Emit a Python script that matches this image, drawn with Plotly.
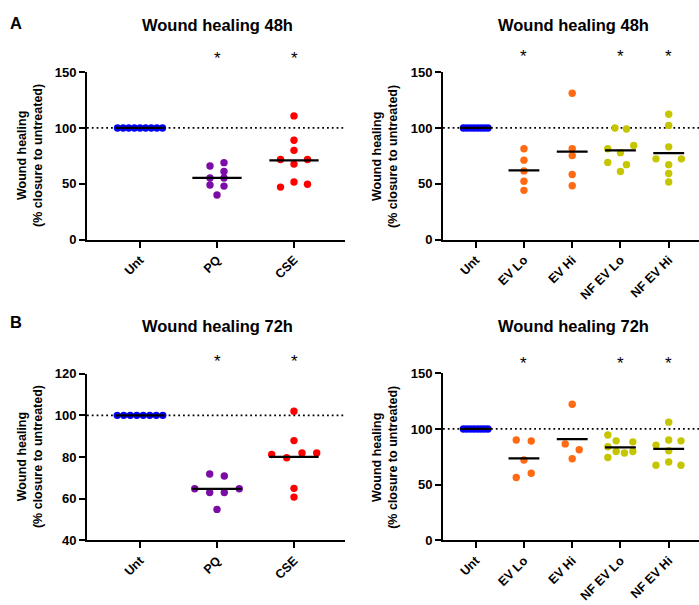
import numpy as np
import plotly.graph_objects as go

W, H = 699, 605
FONT = "Liberation Sans, Arial, sans-serif"

# ---------------- data ----------------
left_cats = ["Unt", "PQ", "CSE"]
right_cats = ["Unt", "EV Lo", "EV Hi", "NF EV Lo", "NF EV Hi"]

# Panel A, 48h (left)
a48_unt = [100, 100, 100, 100, 100, 100, 100, 100, 100]
a48_pq = [69, 66, 61, 55.2, 55.2, 49, 48, 40]
a48_cse = [110.8, 89, 80, 71.8, 71.8, 67.7, 51.7, 49.7, 47.1]
a48_left_sig = [False, True, True]

# Panel A, 48h (right)
a48r_unt = [100, 100, 100, 100, 100, 100, 100, 100]
a48r_evlo = [81.4, 71.2, 61.6, 52.3, 44.2]
a48r_evhi = [131.1, 81.4, 75.3, 58.4, 48.3]
a48r_nflo = [100, 99.1, 84.3, 81.4, 77.9, 69.2, 67.2, 61.0]
a48r_nfhi = [112.2, 102.3, 83.1, 72.4, 72.4, 67.2, 59.3, 51.7]
a48_right_sig = [False, True, False, True, True]

# Panel B, 72h (left)
b72_unt = [100, 100, 100, 100, 100, 100, 100, 100]
b72_pq = [71.9, 70.9, 64.8, 64.8, 63, 63, 54.9]
b72_cse = [102, 87.9, 82, 82, 81.2, 79.7, 65, 60.8]
b72_left_sig = [False, True, True]

# Panel B, 72h (right)
b72r_unt = [100, 100, 100, 100, 100, 100, 100, 100]
b72r_evlo = [90.1, 89.2, 72.1, 60.2, 56.4]
b72r_evhi = [122.1, 86.6, 81.4, 73.3]
b72r_nflo = [94.5, 89.3, 88.4, 84.0, 79.7, 78.4, 79.7, 74.4]
b72r_nfhi = [106.1, 90.1, 89.3, 85.5, 80.5, 70.4, 67.5, 67.5]
b72_right_sig = [False, True, False, True, True]

# ---------------- layout / styling (positions in px) ----------------
# swarm offsets in pixels (scatter-dot arrangement)
a48_pq_dx = [7, -7, 7, -7, 7, -7, 7, 0]
a48_cse_dx = [0, 0, 0, -13.5, 13.5, 0, 0, 13.5, -13.5]
a48r_evlo_dx = [0, 0, 0, 0, 0]
a48r_evhi_dx = [0, 0, 0, 0, 0]
a48r_nflo_dx = [-5.5, 6, 13.3, -12.7, 0, -12.7, 6, 0]
a48r_nfhi_dx = [0, 0, 0, -12.7, 12.7, 0, 0, 0]
b72_pq_dx = [-7.3, 7.3, -22.3, 22.3, -7.3, 7.3, 0]
b72_cse_dx = [0, 0, 8, 22.7, -22.3, -7.3, 0, 0]
b72r_evlo_dx = [-7.7, 7.3, 0, 7.3, -7.7]
b72r_evhi_dx = [0, -7, 7, 0]
b72r_nflo_dx = [-12.6, -4.3, 12.4, -12.6, -4.3, 4, 12.4, -12.6]
b72r_nfhi_dx = [0, 0, 12.3, -12.7, 0, 0, -12.7, 12.3]

BLUE = "#0000ff"
PURPLE = "#7b0ca6"
RED = "#ff0000"
ORANGE = "#ff6a13"
OLIVE = "#c6c600"

def px2x(px):
    return px / W

def px2y(py):
    return 1 - py / H

panels = [
    dict(ax="", cats=left_cats,
         groups=[(a48_unt, None, BLUE), (a48_pq, a48_pq_dx, PURPLE), (a48_cse, a48_cse_dx, RED)],
         sig=a48_left_sig, xpx=(87, 345), cat0=140, ppu=77, ypx=(66.7, 238.7),
         yr=[0, 150], yt=[0, 50, 100, 150], unt_half=22.5,
         title="Wound healing 48h", title_xy=(217.5, 18.5), star_y=53, ytitle_x=30, letter="A", letter_xy=(16, 16)),
    dict(ax="2", cats=right_cats,
         groups=[(a48r_unt, None, BLUE), (a48r_evlo, a48r_evlo_dx, ORANGE), (a48r_evhi, a48r_evhi_dx, ORANGE),
                 (a48r_nflo, a48r_nflo_dx, OLIVE), (a48r_nfhi, a48r_nfhi_dx, OLIVE)],
         sig=a48_right_sig, xpx=(443, 699), cat0=475.7, ppu=48.25, ypx=(66.7, 238.7),
         yr=[0, 150], yt=[0, 50, 100, 150], unt_half=12.3,
         title="Wound healing 48h", title_xy=(573, 18.5), star_y=51, ytitle_x=385, letter=None),
    dict(ax="3", cats=left_cats,
         groups=[(b72_unt, None, BLUE), (b72_pq, b72_pq_dx, PURPLE), (b72_cse, b72_cse_dx, RED)],
         sig=b72_left_sig, xpx=(87, 345), cat0=140, ppu=77, ypx=(376, 547),
         yr=[40, 120], yt=[40, 60, 80, 100, 120], unt_half=22.8,
         title="Wound healing 72h", title_xy=(217.5, 326.7), star_y=363, ytitle_x=30, letter="B", letter_xy=(16, 323)),
    dict(ax="4", cats=right_cats,
         groups=[(b72r_unt, None, BLUE), (b72r_evlo, b72r_evlo_dx, ORANGE), (b72r_evhi, b72r_evhi_dx, ORANGE),
                 (b72r_nflo, b72r_nflo_dx, OLIVE), (b72r_nfhi, b72r_nfhi_dx, OLIVE)],
         sig=b72_right_sig, xpx=(443, 699), cat0=475.7, ppu=48.25, ypx=(375.5, 547),
         yr=[0, 150], yt=[0, 50, 100, 150], unt_half=12.3,
         title="Wound healing 72h", title_xy=(573, 326.7), star_y=366, ytitle_x=385, letter=None),
]

fig = go.Figure()
annotations = []
shapes = []
layout_axes = {}

for p in panels:
    xa = "x" + p["ax"]
    ya = "y" + p["ax"]
    ncat = len(p["cats"])
    # x range from pixel geometry
    x_lo = -(p["cat0"] - p["xpx"][0]) / p["ppu"]
    x_hi = (p["xpx"][1] - p["cat0"]) / p["ppu"]

    for i, (vals, dx, col) in enumerate(p["groups"]):
        n = len(vals)
        if dx is None:
            offs = np.linspace(-p["unt_half"], p["unt_half"], n) / p["ppu"]
        else:
            offs = np.array(dx) / p["ppu"]
        xs = i + offs
        fig.add_trace(go.Scatter(
            x=xs, y=vals, mode="markers", xaxis=xa, yaxis=ya,
            marker=dict(size=7.4, color=col, line=dict(width=0)),
            showlegend=False, hoverinfo="y", cliponaxis=False))
    # mean lines on top
    for i, (vals, dx, col) in enumerate(p["groups"]):
        m = float(np.mean(vals))
        fig.add_trace(go.Scatter(
            x=[i - 0.32, i + 0.32], y=[m, m], mode="lines", xaxis=xa, yaxis=ya,
            line=dict(color="black", width=2.2), showlegend=False, hoverinfo="skip",
            cliponaxis=False))

    # dotted reference at 100
    shapes.append(dict(type="line", xref=xa + " domain", yref=ya, x0=0, x1=1, y0=100, y1=100,
                       line=dict(color="black", width=1.8, dash="1.8px,3px"), layer="below"))

    axis_key = "xaxis" + p["ax"]
    yaxis_key = "yaxis" + p["ax"]
    layout_axes[axis_key] = dict(
        domain=[px2x(p["xpx"][0]), px2x(p["xpx"][1])], range=[x_lo, x_hi], anchor=ya,
        tickmode="array", tickvals=list(range(ncat)), ticktext=p["cats"], tickangle=-45,
        showline=True, linewidth=2, linecolor="black", ticks="outside", ticklen=6,
        tickwidth=2, tickcolor="black", showgrid=False, zeroline=False,
        tickfont=dict(family=FONT, size=12.5, color="black", weight="bold"))
    layout_axes[yaxis_key] = dict(
        domain=[px2y(p["ypx"][1]), px2y(p["ypx"][0])], range=p["yr"], anchor=xa,
        tickmode="array", tickvals=p["yt"], showline=True, linewidth=2, linecolor="black",
        ticks="outside", ticklen=6, tickwidth=2, tickcolor="black", showgrid=False,
        zeroline=False, tickfont=dict(family=FONT, size=13, color="black", weight="bold"))

    # title
    annotations.append(dict(text=p["title"], x=px2x(p["title_xy"][0]), y=px2y(p["title_xy"][1]),
                            xref="paper", yref="paper", xanchor="center", yanchor="middle",
                            showarrow=False, font=dict(family=FONT, size=16.5, color="black", weight="bold")))
    # y-axis title
    ymid = (p["ypx"][0] + p["ypx"][1]) / 2
    annotations.append(dict(text="Wound healing<br>(% closure to untreated)",
                            x=px2x(p["ytitle_x"]), y=px2y(ymid), xref="paper", yref="paper",
                            xanchor="center", yanchor="middle", textangle=-90, showarrow=False,
                            font=dict(family=FONT, size=12.5, color="black", weight="bold")))
    # significance stars
    for i, s in enumerate(p["sig"]):
        if s:
            annotations.append(dict(text="*", x=i, y=px2y(p["star_y"]), xref=xa, yref="paper",
                                    xanchor="center", yanchor="middle", showarrow=False,
                                    font=dict(family=FONT, size=17, color="black")))
    if p["letter"]:
        annotations.append(dict(text=p["letter"], x=px2x(p["letter_xy"][0]), y=px2y(p["letter_xy"][1]),
                                xref="paper", yref="paper", xanchor="center", yanchor="middle",
                                showarrow=False, font=dict(family=FONT, size=16.5, color="black", weight="bold")))

fig.update_layout(
    width=W, height=H, margin=dict(l=0, r=0, t=0, b=0),
    paper_bgcolor="white", plot_bgcolor="white",
    showlegend=False, annotations=annotations, shapes=shapes,
    **layout_axes)

fig.write_html("out.html")
